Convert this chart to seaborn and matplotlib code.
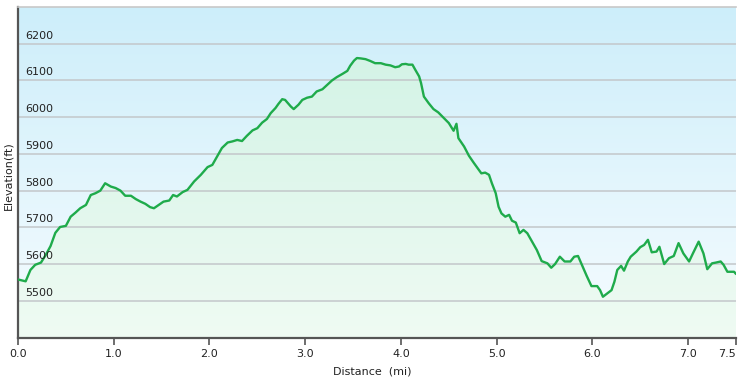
import numpy as np
import pandas as pd
import matplotlib
matplotlib.use("Agg")
import matplotlib.pyplot as plt
import seaborn as sns
from matplotlib.colors import LinearSegmentedColormap
from matplotlib.transforms import blended_transform_factory, ScaledTranslation

# distance along the trail (mi) and elevation (ft)
distance = [0.00, 0.08, 0.13, 0.18, 0.24, 0.29, 0.34, 0.39, 0.44, 0.50,
            0.55, 0.60, 0.65, 0.71, 0.76, 0.81, 0.86, 0.91, 0.97, 1.02,
            1.07, 1.12, 1.18, 1.23, 1.28, 1.33, 1.38, 1.42, 1.47, 1.52,
            1.58, 1.62, 1.66, 1.72, 1.77, 1.84, 1.91, 1.98, 2.03, 2.08,
            2.13, 2.19, 2.24, 2.29, 2.34, 2.39, 2.45, 2.50, 2.55, 2.60,
            2.64, 2.69, 2.72, 2.76, 2.79, 2.85, 2.88, 2.93, 2.97, 3.02,
            3.07, 3.12, 3.18, 3.23, 3.28, 3.33, 3.39, 3.44, 3.47, 3.51,
            3.54, 3.58, 3.63, 3.68, 3.73, 3.79, 3.84, 3.89, 3.94, 3.98,
            4.01, 4.05, 4.08, 4.12, 4.15, 4.19, 4.21, 4.24, 4.29, 4.34,
            4.39, 4.45, 4.50, 4.55, 4.58, 4.60, 4.66, 4.71, 4.76, 4.81,
            4.84, 4.88, 4.92, 4.95, 4.99, 5.02, 5.05, 5.09, 5.13, 5.16,
            5.20, 5.24, 5.28, 5.32, 5.37, 5.42, 5.47, 5.53, 5.57, 5.61,
            5.66, 5.71, 5.77, 5.81, 5.85, 5.89, 5.94, 5.99, 6.05, 6.08,
            6.11, 6.15, 6.20, 6.23, 6.26, 6.30, 6.33, 6.37, 6.40, 6.46,
            6.50, 6.54, 6.58, 6.62, 6.67, 6.70, 6.75, 6.80, 6.85, 6.90,
            6.95, 7.01, 7.05, 7.11, 7.16, 7.20, 7.25, 7.29, 7.34, 7.37,
            7.41, 7.45, 7.48, 7.50]
elevation = [5558, 5553, 5584, 5598, 5604, 5625, 5649, 5685, 5701, 5704,
             5729, 5740, 5752, 5761, 5788, 5793, 5800, 5820, 5811, 5807,
             5800, 5786, 5786, 5777, 5770, 5764, 5755, 5752, 5761, 5770,
             5773, 5788, 5784, 5796, 5802, 5825, 5843, 5864, 5870, 5893,
             5916, 5931, 5934, 5938, 5935, 5949, 5964, 5970, 5985, 5995,
             6011, 6025, 6036, 6049, 6047, 6029, 6022, 6034, 6047, 6053,
             6056, 6070, 6076, 6088, 6100, 6109, 6118, 6126, 6140, 6154,
             6161, 6160, 6158, 6153, 6147, 6147, 6143, 6141, 6136, 6138,
             6144, 6145, 6143, 6143, 6129, 6111, 6093, 6056, 6038, 6022,
             6013, 5997, 5984, 5963, 5982, 5943, 5920, 5895, 5876, 5858,
             5847, 5849, 5843, 5820, 5793, 5756, 5738, 5729, 5734, 5718,
             5713, 5684, 5693, 5684, 5661, 5638, 5608, 5602, 5590, 5600,
             5620, 5607, 5607, 5620, 5622, 5598, 5568, 5540, 5540, 5529,
             5511, 5519, 5529, 5552, 5584, 5595, 5582, 5607, 5620, 5634,
             5646, 5652, 5666, 5632, 5634, 5647, 5600, 5616, 5622, 5657,
             5629, 5607, 5629, 5661, 5629, 5586, 5602, 5604, 5607, 5598,
             5579, 5579, 5579, 5573]

x_ticks = [0.0, 1.0, 2.0, 3.0, 4.0, 5.0, 6.0, 7.0, 7.5]
y_ticks = [5500, 5600, 5700, 5800, 5900, 6000, 6100, 6200]

df = pd.DataFrame({"Distance": distance, "Elevation": elevation})

sns.set_theme(style="white")
plt.rcParams["font.family"] = ["DejaVu Sans"]

fig = plt.figure(figsize=(7.4, 3.83), dpi=100)
ax = fig.add_axes([18 / 740, 1 - 337.5 / 383, (736 - 18) / 740, (337.5 - 7) / 383])

xmin, xmax, ymin, ymax = 0, 7.5, 5400, 6300

# sky-blue background gradient
bg = LinearSegmentedColormap.from_list("bg", ["#f6fcff", "#cdeefa"])
grad = np.linspace(0, 1, 256).reshape(-1, 1)
ax.imshow(grad, cmap=bg, origin="lower", aspect="auto",
          extent=[xmin, xmax, ymin, ymax], zorder=0)

# green gradient fill under the profile
poly = ax.fill_between(df["Distance"], df["Elevation"], ymin, color="none", lw=0)
fg = LinearSegmentedColormap.from_list("fg", ["#effbf3", "#cff2e4"])
im = ax.imshow(grad, cmap=fg, origin="lower", aspect="auto",
               extent=[xmin, xmax, ymin, ymax], zorder=1)
im.set_clip_path(poly.get_paths()[0], transform=ax.transData)

for v in y_ticks:
    ax.axhline(v, color="#c3c7ca", lw=1.1, zorder=2)

sns.lineplot(data=df, x="Distance", y="Elevation", ax=ax, color="#1fab4b",
             lw=1.7, zorder=3)

ax.set_xlim(xmin, xmax)
ax.set_ylim(ymin, ymax)
ax.set_xticks(x_ticks)
labels = ax.set_xticklabels([f"{t:.1f}" for t in x_ticks], fontsize=8, color="#222222")
labels[-1].set_horizontalalignment("right")
ax.tick_params(axis="x", direction="out", length=5, width=1.2, color="#555555", pad=3,
               bottom=True)
ax.set_yticks([])
ax.set_xlabel("")
ax.set_ylabel("")

# y tick labels sit inside the plot, just above their grid lines
trans = blended_transform_factory(ax.transAxes, ax.transData) + \
    ScaledTranslation(0, 3 / 100, fig.dpi_scale_trans)
for v in y_ticks:
    ax.text(0.0105, v, str(v), transform=trans, fontsize=8, color="#222222",
            ha="left", va="bottom", zorder=4)

for side in ["left", "bottom"]:
    ax.spines[side].set_color("#555555")
    ax.spines[side].set_linewidth(1.6)
ax.spines["top"].set_color("#c8c8c8")
ax.spines["top"].set_linewidth(1.2)
ax.spines["right"].set_visible(False)

fig.text(8 / 740, 1 - 176 / 383, "Elevation(ft)", rotation=90, fontsize=8,
         color="#222222", ha="center", va="center")
fig.text(372 / 740, 1 - 371 / 383, "Distance  (mi)", fontsize=8,
         color="#222222", ha="center", va="center")

fig.savefig("out.png", dpi=100, facecolor="white")
